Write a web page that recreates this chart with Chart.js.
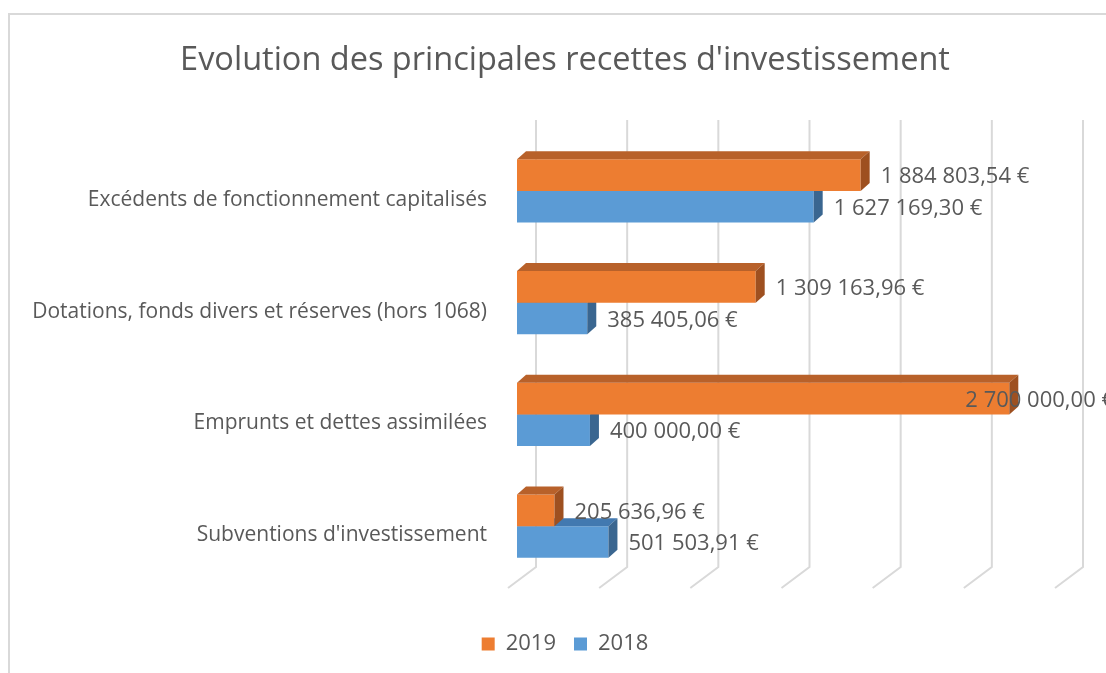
<!DOCTYPE html>
<html>
<head>
<meta charset="utf-8">
<script src="https://cdn.jsdelivr.net/npm/chart.js@4.4.0/dist/chart.umd.min.js"></script>
<style>
  html, body { margin: 0; padding: 0; background: #ffffff; }
  #wrap { position: relative; width: 1106px; height: 673px; }
  #frame { position: absolute; left: 8px; top: 13px; width: 1110px; height: 680px; border-left: 2px solid #d9d9d9; border-top: 2px solid #d9d9d9; box-sizing: border-box; pointer-events: none; }
  canvas { position: absolute; left: 0; top: 0; }
</style>
</head>
<body>
<div id="wrap">
  <canvas id="c" width="1106" height="673"></canvas>
  <div id="frame"></div>
</div>
<script>
const chartTitle = "Evolution des principales recettes d'investissement";
const categories = [
  "Excédents de fonctionnement capitalisés",
  "Dotations, fonds divers et réserves (hors 1068)",
  "Emprunts et dettes assimilées",
  "Subventions d'investissement"
];
const seriesNames = ["2019", "2018"];
const values2019 = [1884803.54, 1309163.96, 2700000.00, 205636.96];
const values2018 = [1627169.30, 385405.06, 400000.00, 501503.91];
const axisMin = 0;
const axisMax = 3000000;
const axisStep = 500000;

const FONT = "'Open Sans', 'Liberation Sans', sans-serif";
const TEXT = '#595959';

function fmtEuro(v) {
  const parts = v.toFixed(2).split('.');
  const intPart = parts[0].replace(/\B(?=(\d{3})+(?!\d))/g, '\u00a0');
  return intPart + ',' + parts[1] + '\u00a0€';
}

const faceColors = {
  '2019': { top: '#B8612A', side: '#9E5020' },
  '2018': { top: '#4279B0', side: '#3A6690' }
};
const DX = 9, DY = 8;

const grid3d = {
  id: 'grid3d',
  afterLayout(chart) {
    // let the long category labels use the space left of the axis box
    chart.scales.y.left = 0;
  },
  beforeDatasetsDraw(chart) {
    const { ctx, chartArea } = chart;
    const xs = chart.scales.x;
    ctx.save();
    ctx.strokeStyle = '#d9d9d9';
    ctx.lineWidth = 2;
    for (let v = axisMin; v <= axisMax; v += axisStep) {
      const px = xs.getPixelForValue(v);
      const bx = px + 19;
      ctx.beginPath();
      ctx.moveTo(bx, chartArea.top - 15);
      ctx.lineTo(bx, chartArea.bottom - 15);
      ctx.lineTo(bx - 28, chartArea.bottom + 6);
      ctx.stroke();
    }
    ctx.restore();
  },
  afterDatasetDraw(chart, args) {
    const { ctx } = chart;
    const meta = args.meta;
    const ds = chart.data.datasets[args.index];
    const fc = faceColors[ds.label];
    ctx.save();
    meta.data.forEach(bar => {
      const p = bar.getProps(['x', 'y', 'base', 'height'], true);
      const top = p.y - p.height / 2;
      const bottom = p.y + p.height / 2;
      const x0 = p.base, x1 = p.x;
      ctx.fillStyle = fc.top;
      ctx.beginPath();
      ctx.moveTo(x0, top);
      ctx.lineTo(x1, top);
      ctx.lineTo(x1 + DX, top - DY);
      ctx.lineTo(x0 + DX, top - DY);
      ctx.closePath();
      ctx.fill();
      ctx.fillStyle = fc.side;
      ctx.beginPath();
      ctx.moveTo(x1, top);
      ctx.lineTo(x1 + DX, top - DY);
      ctx.lineTo(x1 + DX, bottom - DY);
      ctx.lineTo(x1, bottom);
      ctx.closePath();
      ctx.fill();
    });
    ctx.restore();
  },
  afterDatasetsDraw(chart) {
    const { ctx } = chart;
    ctx.save();
    ctx.font = '22px ' + FONT;
    ctx.fillStyle = TEXT;
    ctx.textBaseline = 'middle';
    ctx.textAlign = 'left';
    chart.data.datasets.forEach((ds, di) => {
      const meta = chart.getDatasetMeta(di);
      meta.data.forEach((bar, i) => {
        const txt = fmtEuro(ds.data[i]);
        const w = ctx.measureText(txt).width;
        let x = bar.x + 20;
        if (x + w > chart.width + 8) x = chart.width + 8 - w;
        ctx.fillText(txt, x, bar.y + 2);
      });
    });
    ctx.restore();
  }
};

new Chart(document.getElementById('c'), {
  type: 'bar',
  data: {
    labels: categories,
    datasets: [
      { label: seriesNames[0], data: values2019, backgroundColor: '#ED7D31', borderWidth: 0 },
      { label: seriesNames[1], data: values2018, backgroundColor: '#5B9BD5', borderWidth: 0 }
    ]
  },
  options: {
    responsive: false,
    animation: false,
    indexAxis: 'y',
    layout: { padding: { left: 66, right: 42, top: 0, bottom: 8 } },
    datasets: { bar: { categoryPercentage: 0.567, barPercentage: 1 } },
    scales: {
      x: {
        min: axisMin, max: axisMax,
        ticks: { stepSize: axisStep, display: false },
        grid: { display: false, drawTicks: false },
        border: { display: false },
        afterFit(s) { s.height = 33; }
      },
      y: {
        grid: { display: false, drawTicks: false },
        border: { display: false },
        ticks: { color: TEXT, font: { family: FONT, size: 21 }, padding: 30, labelOffset: 9 },
        afterFit(s) { s.width = 451; }
      }
    },
    plugins: {
      title: {
        display: true, text: chartTitle, color: TEXT,
        font: { family: FONT, size: 32.5, weight: 'normal' },
        padding: { top: 41, bottom: 55 }
      },
      legend: {
        position: 'bottom',
        labels: { boxWidth: 13, boxHeight: 13, color: TEXT, font: { family: FONT, size: 22 }, padding: 18 }
      },
      tooltip: { enabled: false }
    }
  },
  plugins: [grid3d]
});
</script>
</body>
</html>
